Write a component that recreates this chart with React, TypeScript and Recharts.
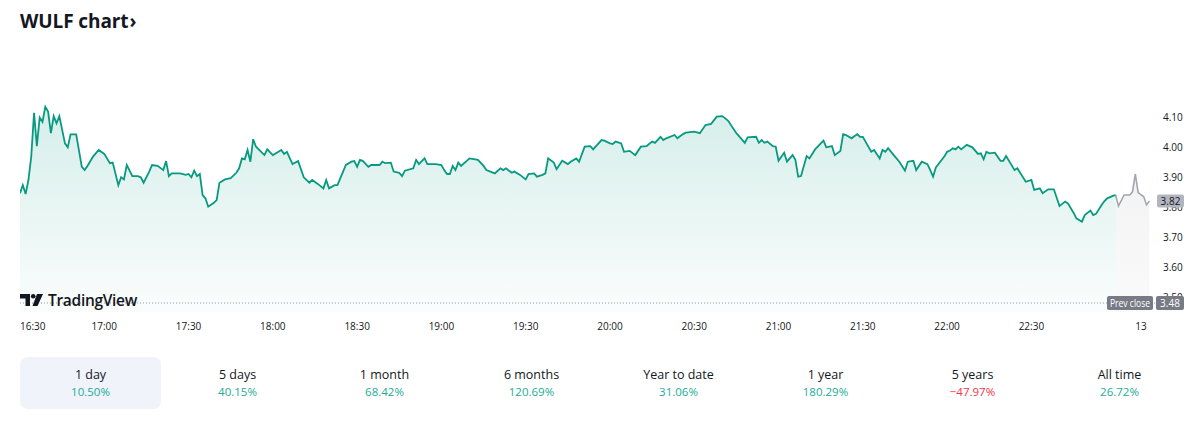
import React from 'react'
import { ComposedChart, Area, XAxis, YAxis, ReferenceLine } from 'recharts'

// regular session closes: [minutes after 16:30, price]
const sessionBars: [number, number][] = [
  [0, 3.846], [1, 3.873], [2, 3.843], [3, 3.89], [4, 3.968], [5, 4.114], [6, 4.003], [7, 4.098],
  [8, 4.084], [9, 4.134], [10, 4.118], [11, 4.046], [12, 4.103], [13, 4.079], [14, 4.103], [16, 4.012],
  [17, 3.999], [18, 4.042], [20, 4.042], [22, 3.934], [23, 3.923], [24, 3.937], [26, 3.968], [28, 3.99],
  [30, 3.977], [32, 3.946], [33, 3.948], [35, 3.873], [36, 3.899], [37, 3.892], [38, 3.94], [40, 3.903],
  [42, 3.903], [43, 3.899], [44, 3.881], [46, 3.918], [47, 3.94], [49, 3.937], [51, 3.923], [52, 3.953],
  [53, 3.903], [54, 3.912], [57, 3.912], [59, 3.907], [60, 3.91], [61, 3.899], [62, 3.921], [63, 3.903],
  [64, 3.91], [65, 3.84], [66, 3.829], [67, 3.801], [69, 3.814], [70, 3.823], [71, 3.881], [73, 3.892],
  [75, 3.896], [77, 3.914], [78, 3.929], [79, 3.962], [80, 3.959], [81, 3.99], [82, 3.951], [83, 4.026],
  [84, 4.001], [87, 3.973], [88, 3.992], [90, 3.973], [92, 3.984], [93, 3.99], [94, 3.977], [95, 3.984],
  [97, 3.943], [99, 3.953], [101, 3.899], [103, 3.881], [104, 3.89], [106, 3.877], [108, 3.862], [109, 3.89],
  [110, 3.862], [112, 3.873], [113, 3.873], [115, 3.918], [116, 3.94], [118, 3.951], [119, 3.953], [120, 3.934],
  [121, 3.957], [122, 3.954], [124, 3.934], [125, 3.94], [128, 3.94], [129, 3.951], [130, 3.946], [132, 3.948],
  [133, 3.918], [135, 3.914], [136, 3.903], [137, 3.921], [140, 3.929], [141, 3.957], [142, 3.943], [144, 3.962],
  [145, 3.943], [148, 3.943], [150, 3.94], [151, 3.923], [152, 3.91], [153, 3.91], [154, 3.937], [155, 3.923],
  [156, 3.948], [157, 3.937], [160, 3.962], [163, 3.957], [165, 3.937], [166, 3.923], [169, 3.912], [171, 3.929],
  [172, 3.923], [173, 3.929], [175, 3.914], [176, 3.918], [178, 3.907], [180, 3.892], [181, 3.91], [183, 3.912],
  [184, 3.901], [186, 3.907], [187, 3.912], [188, 3.962], [190, 3.948], [191, 3.926], [193, 3.954], [195, 3.943],
  [196, 3.951], [198, 3.962], [199, 3.951], [201, 4.001], [203, 4.003], [204, 3.992], [207, 4.023], [208, 4.021],
  [210, 4.012], [211, 4.01], [212, 4.018], [214, 4.012], [215, 3.984], [217, 3.987], [219, 3.973], [221, 4.001],
  [223, 4.003], [225, 4.018], [226, 4.014], [228, 4.034], [229, 4.023], [230, 4.029], [233, 4.04], [234, 4.029],
  [236, 4.043], [237, 4.048], [240, 4.051], [242, 4.046], [244, 4.073], [246, 4.077], [248, 4.101], [250, 4.103],
  [252, 4.088], [255, 4.046], [258, 4.014], [259, 4.032], [262, 4.034], [263, 4.014], [264, 4.023], [265, 4.014],
  [266, 4.018], [268, 4.003], [269, 4.001], [270, 3.954], [272, 3.981], [273, 3.951], [275, 3.973], [276, 3.957],
  [277, 3.901], [278, 3.903], [280, 3.97], [281, 3.962], [283, 3.992], [286, 4.021], [287, 3.999], [289, 4.003],
  [290, 3.973], [292, 3.987], [293, 4.043], [294, 4.04], [296, 4.029], [298, 4.043], [299, 4.034], [300, 4.034],
  [303, 3.984], [304, 3.99], [306, 3.962], [307, 3.99], [308, 3.984], [309, 3.996], [311, 3.973], [313, 3.951],
  [315, 3.921], [316, 3.951], [318, 3.954], [319, 3.923], [321, 3.951], [323, 3.943], [324, 3.923], [325, 3.901],
  [326, 3.932], [329, 3.968], [330, 3.984], [331, 3.988], [332, 3.996], [333, 3.992], [334, 4.001], [335, 3.992],
  [337, 4.007], [339, 3.999], [341, 3.977], [342, 3.979], [343, 3.959], [344, 3.984], [345, 3.979], [347, 3.981],
  [349, 3.954], [350, 3.954], [351, 3.97], [354, 3.923], [355, 3.929], [358, 3.884], [360, 3.89], [361, 3.857],
  [363, 3.862], [364, 3.846], [366, 3.859], [368, 3.859], [370, 3.803], [372, 3.818], [373, 3.812], [375, 3.781],
  [376, 3.762], [378, 3.751], [379, 3.773], [381, 3.788], [382, 3.773], [383, 3.777], [385, 3.807], [386, 3.82],
  [387, 3.829], [389, 3.837], [390, 3.84],
]

// extended hours, drawn in grey
const extendedBars: [number, number][] = [
  [391, 3.803], [393, 3.84], [395, 3.84], [396, 3.851], [397, 3.91], [398, 3.848], [400, 3.834], [401, 3.807],
  [402, 3.82],
]

const timeTicks = [0, 30, 60, 90, 120, 150, 180, 210, 240, 270, 300, 330, 360, 399]
const timeLabels = ['16:30', '17:00', '17:30', '18:00', '18:30', '19:00', '19:30', '20:00', '20:30', '21:00', '21:30', '22:00', '22:30', '13']
const priceTicks = [3.5, 3.6, 3.7, 3.8, 3.9, 4.0, 4.1]
const prevClose = 3.48
const lastPrice = 3.82

const periodLabels = ['1 day', '5 days', '1 month', '6 months', 'Year to date', '1 year', '5 years', 'All time']
const periodReturns = [10.5, 40.15, 68.42, 120.69, 31.06, 180.29, -47.97, 26.72]

const UP = '#089981'
const DOWN = '#f23645'
const TEXT = '#131722'
const FONT = "'Open Sans', Roboto, sans-serif"

type Row = { t: number; session?: number; extended?: number }

const rowMap = new Map<number, Row>()
sessionBars.forEach(([t, p]) => rowMap.set(t, { t, session: p }))
// the grey segment starts from the last regular close
const [lastT, lastP] = sessionBars[sessionBars.length - 1]
rowMap.set(lastT, { t: lastT, session: lastP, extended: lastP })
extendedBars.forEach(([t, p]) => rowMap.set(t, { ...(rowMap.get(t) ?? { t }), extended: p }))
const data = [...rowMap.values()].sort((a, b) => a.t - b.t)

const TimeTick = ({ x, y, payload }: any) => {
  const label = timeLabels[timeTicks.indexOf(payload.value)]
  return (
    <text
      x={x}
      y={y}
      dy={10}
      textAnchor={payload.value === 0 ? 'start' : 'middle'}
      fontSize={10}
      fill={TEXT}
      fontFamily={FONT}
    >
      {label}
    </text>
  )
}

// price scale labels are drawn as reference-line labels so the tags below can sit on top of them
const PriceLabel = ({ viewBox, value }: any) => {
  if (!viewBox) return null
  return (
    <text
      x={viewBox.x + viewBox.width + 8}
      y={viewBox.y + 3.5}
      fontSize={10}
      fill={TEXT}
      fontFamily={FONT}
    >
      {value}
    </text>
  )
}

const PrevCloseTag = ({ viewBox }: any) => {
  if (!viewBox) return null
  const right = viewBox.x + viewBox.width
  const y = viewBox.y
  return (
    <g fontFamily={FONT} fontSize={10}>
      <rect x={right - 48} y={y - 7} width={46} height={14} rx={2} fill="#787b86" />
      <text x={right - 25} y={y + 3.5} textAnchor="middle" fill="#fff" textLength={40} lengthAdjust="spacingAndGlyphs">
        Prev close
      </text>
      <rect x={right + 1} y={y - 7} width={28} height={14} rx={2} fill="#787b86" />
      <text x={right + 15} y={y + 3.5} textAnchor="middle" fill="#fff">
        {prevClose.toFixed(2)}
      </text>
    </g>
  )
}

const LastPriceTag = ({ viewBox }: any) => {
  if (!viewBox) return null
  const right = viewBox.x + viewBox.width
  const y = viewBox.y
  return (
    <g fontFamily={FONT} fontSize={10}>
      <rect x={right + 2} y={y - 6.5} width={27} height={13} rx={2} fill="#b2b5be" />
      <text x={right + 15.5} y={y + 3.5} textAnchor="middle" fill={TEXT}>
        {lastPrice.toFixed(2)}
      </text>
    </g>
  )
}

const TradingViewMark = () => (
  <div style={{ position: 'absolute', left: 20, top: 292, display: 'flex', alignItems: 'center', gap: 5 }}>
    <svg width={23} height={12} viewBox="0 0 23 12">
      <path d="M0 0 H10 V12 H5.5 V4.5 H0 Z" fill={TEXT} />
      <circle cx={13.2} cy={2.3} r={2.3} fill={TEXT} />
      <path d="M17 0 H23 L17.5 12 H12.5 Z" fill={TEXT} />
    </svg>
    <span style={{ fontFamily: FONT, fontWeight: 600, fontSize: 15.5, color: TEXT, letterSpacing: -0.3, lineHeight: '16px' }}>
      TradingView
    </span>
  </div>
)

export default function App() {
  return (
    <div style={{ position: 'absolute', left: 0, top: 0, width: 1200, height: 426, background: '#fff', fontFamily: FONT }}>
      <div style={{ position: 'absolute', left: 20, top: 10, fontSize: 19, fontWeight: 700, color: TEXT, lineHeight: '22px', letterSpacing: -0.1 }}>
        WULF chart<span style={{ marginLeft: 1 }}>›</span>
      </div>

      <div style={{ position: 'absolute', left: 0, top: 0 }}>
        <ComposedChart width={1200} height={340} data={data} margin={{ top: 42, right: 0, bottom: 0, left: 20 }}>
          <defs>
            <linearGradient id="sessionFill" x1="0" y1="0" x2="0" y2="1">
              <stop offset="0%" stopColor={UP} stopOpacity={0.28} />
              <stop offset="100%" stopColor={UP} stopOpacity={0.03} />
            </linearGradient>
            <linearGradient id="extendedFill" x1="0" y1="0" x2="0" y2="1">
              <stop offset="0%" stopColor="#9598a1" stopOpacity={0.2} />
              <stop offset="100%" stopColor="#9598a1" stopOpacity={0.07} />
            </linearGradient>
          </defs>
          <XAxis
            dataKey="t"
            type="number"
            domain={[0, 404]}
            ticks={timeTicks}
            interval={0}
            tick={<TimeTick />}
            axisLine={false}
            tickLine={false}
            height={28}
            allowDataOverflow
          />
          <YAxis
            orientation="right"
            domain={[3.45, 4.35]}
            ticks={priceTicks}
            width={45}
            axisLine={false}
            tickLine={false}
            tick={false}
            allowDataOverflow
          />
          <Area
            type="linear"
            dataKey="extended"
            stroke="#a3a6af"
            strokeWidth={1.6}
            fill="url(#extendedFill)"
            dot={false}
            activeDot={false}
            isAnimationActive={false}
          />
          <Area
            type="linear"
            dataKey="session"
            stroke={UP}
            strokeWidth={1.8}
            fill="url(#sessionFill)"
            dot={false}
            activeDot={false}
            isAnimationActive={false}
          />
          {priceTicks.map((p) => (
            <ReferenceLine
              key={p}
              y={p}
              stroke="none"
              strokeOpacity={0}
              label={<PriceLabel value={p.toFixed(2)} />}
            />
          ))}
          <ReferenceLine y={prevClose} stroke="#9598a1" strokeDasharray="1 2" label={<PrevCloseTag />} />
          <ReferenceLine y={lastPrice} stroke="none" strokeOpacity={0} label={<LastPriceTag />} />
        </ComposedChart>
      </div>

      <TradingViewMark />

      <div style={{ position: 'absolute', left: 20, top: 357, display: 'flex', gap: 6 }}>
        {periodLabels.map((label, i) => {
          const r = periodReturns[i]
          return (
            <div
              key={label}
              style={{
                width: 141,
                height: 52,
                borderRadius: 8,
                background: i === 0 ? '#f0f3fa' : 'transparent',
                display: 'flex',
                flexDirection: 'column',
                alignItems: 'center',
                justifyContent: 'center',
              }}
            >
              <div style={{ fontSize: 12.5, lineHeight: '17px', color: TEXT }}>{label}</div>
              <div style={{ fontSize: 11.5, lineHeight: '17px', color: r < 0 ? DOWN : '#22ab94' }}>
                {r < 0 ? '\u2212' + Math.abs(r).toFixed(2) : r.toFixed(2)}%
              </div>
            </div>
          )
        })}
      </div>
    </div>
  )
}
